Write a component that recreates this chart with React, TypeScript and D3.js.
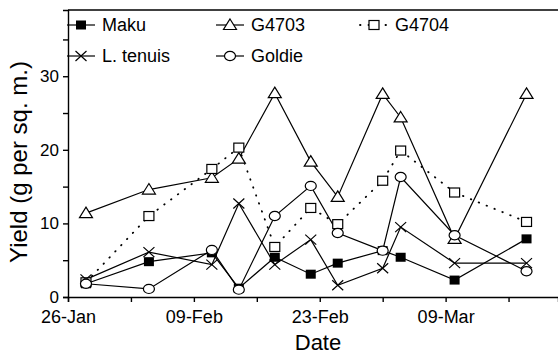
import * as d3 from 'd3';
import { useEffect, useRef } from 'react';

// sampling dates (1993, not a leap year)
const dates = ['28-Jan', '04-Feb', '11-Feb', '14-Feb', '18-Feb', '22-Feb', '25-Feb', '02-Mar', '04-Mar', '10-Mar', '18-Mar'];

const maku = [1.8, 4.8, 6.0, 1.2, 5.4, 3.1, 4.6, 6.3, 5.4, 2.3, 7.9];
const g4703 = [11.4, 14.6, 16.2, 18.8, 27.7, 18.4, 13.6, 27.6, 24.4, 7.9, 27.6];
const g4704 = [2.0, 11.0, 17.4, 20.3, 6.8, 12.1, 9.9, 15.8, 19.9, 14.2, 10.2];
const tenuis = [2.4, 6.1, 4.4, 12.7, 4.4, 7.8, 1.6, 3.9, 9.5, 4.6, 4.6];
const goldie = [1.8, 1.1, 6.4, 1.0, 11.0, 15.1, 8.7, 6.3, 16.3, 8.4, 3.5];

const xTicks = ['26-Jan', '02-Feb', '09-Feb', '16-Feb', '23-Feb', '02-Mar', '09-Mar', '16-Mar'];
const xLabels = ['26-Jan', '09-Feb', '23-Feb', '09-Mar'];
const yTicks = [0, 5, 10, 15, 20, 25, 30, 35];
const yLabels = [0, 10, 20, 30];

const parse = d3.timeParse('%d-%b-%Y');
const toDate = (s: string) => parse(s + '-1993') as Date;

const series = [
  { name: 'Maku', values: maku, marker: 'fsquare', dotted: false },
  { name: 'G4703', values: g4703, marker: 'triangle', dotted: false },
  { name: 'G4704', values: g4704, marker: 'square', dotted: true },
  { name: 'L. tenuis', values: tenuis, marker: 'x', dotted: false },
  { name: 'Goldie', values: goldie, marker: 'circle', dotted: false },
];

const W = 558;
const H = 355;
const font = '"Liberation Sans", Arial, sans-serif';

export default function App() {
  const svgRef = useRef<SVGSVGElement>(null);

  useEffect(() => {
    drawChart(svgRef.current as SVGSVGElement);
  }, []);

  return (
    <div style={{ position: 'absolute', left: 0, top: 0 }}>
      <svg ref={svgRef} width={W} height={H} style={{ display: 'block', background: '#fff' }}></svg>
    </div>
  );
}

function addMarker(g: any, type: string, cx: number, cy: number) {
  if (type === 'circle') {
    g.append('ellipse').attr('cx', cx).attr('cy', cy).attr('rx', 5.5).attr('ry', 4.6)
      .attr('fill', '#fff').attr('stroke', '#000').attr('stroke-width', 1.2);
  } else if (type === 'fsquare') {
    g.append('rect').attr('x', cx - 5).attr('y', cy - 4.5).attr('width', 10).attr('height', 9)
      .attr('fill', '#000');
  } else if (type === 'square') {
    g.append('rect').attr('x', cx - 5).attr('y', cy - 4.5).attr('width', 10).attr('height', 9)
      .attr('fill', '#fff').attr('stroke', '#000').attr('stroke-width', 1.2);
  } else if (type === 'triangle') {
    g.append('path')
      .attr('d', `M${cx},${cy - 6}L${cx + 6.5},${cy + 4.5}L${cx - 6.5},${cy + 4.5}Z`)
      .attr('fill', '#fff').attr('stroke', '#000').attr('stroke-width', 1.2);
  } else if (type === 'x') {
    g.append('path')
      .attr('d', `M${cx - 5.5},${cy - 5}L${cx + 5.5},${cy + 5}M${cx - 5.5},${cy + 5}L${cx + 5.5},${cy - 5}`)
      .attr('stroke', '#000').attr('stroke-width', 1.2).attr('fill', 'none');
  }
}

function drawChart(svgEl: SVGSVGElement) {
  const svg = d3.select(svgEl);
  svg.selectAll('*').remove();

  const left = 68, right = W, top = 10, bottom = 297;

  const x = d3.scaleTime()
    .domain([toDate('26-Jan'), d3.timeHour.offset(toDate('21-Mar'), 12)])
    .range([left, right]);
  const y = d3.scaleLinear().domain([0, 39]).range([bottom, top]);

  // frame top line
  svg.append('line').attr('x1', left).attr('x2', right).attr('y1', top).attr('y2', top)
    .attr('stroke', '#000').attr('stroke-width', 1.4);

  const xAxis = d3.axisBottom(x)
    .tickValues(xTicks.map(toDate))
    .tickSizeOuter(0)
    .tickSize(5)
    .tickPadding(8)
    .tickFormat((d: any) => {
      const s = d3.timeFormat('%d-%b')(d);
      return xLabels.includes(s) ? s : '';
    });

  const gx = svg.append('g').attr('transform', `translate(0,${bottom})`).call(xAxis);
  gx.selectAll('text').attr('font-size', 18).attr('font-family', font).attr('fill', '#000');
  gx.selectAll('line, path').attr('stroke', '#000').attr('stroke-width', 1.4);

  const yAxis = d3.axisLeft(y)
    .tickValues(yTicks)
    .tickSizeOuter(0)
    .tickSize(5)
    .tickPadding(4)
    .tickFormat((d: any) => (yLabels.includes(d) ? String(d) : ''));

  const gy = svg.append('g').attr('transform', `translate(${left},0)`).call(yAxis);
  gy.selectAll('text').attr('font-size', 17).attr('font-family', font).attr('fill', '#000');
  gy.selectAll('line, path').attr('stroke', '#000').attr('stroke-width', 1.4);

  // titles
  svg.append('text').attr('x', 318).attr('y', 350).attr('text-anchor', 'middle')
    .attr('font-size', 22).attr('font-family', font).text('Date');
  svg.append('text').attr('transform', 'translate(27,162) rotate(-90)').attr('text-anchor', 'middle')
    .attr('font-size', 24).attr('font-family', font).text('Yield (g per sq. m.)');

  const line = d3.line<number>()
    .x((_, i) => x(toDate(dates[i])))
    .y(d => y(d));

  const gl = svg.append('g');
  series.forEach(s => {
    gl.append('path').datum(s.values).attr('d', line)
      .attr('fill', 'none').attr('stroke', '#000')
      .attr('stroke-width', s.dotted ? 1.8 : 1.2)
      .attr('stroke-dasharray', s.dotted ? '0.5,8' : null)
      .attr('stroke-linecap', s.dotted ? 'round' : 'butt');
  });

  const gm = svg.append('g');
  series.forEach(s => {
    s.values.forEach((v, i) => addMarker(gm, s.marker, x(toDate(dates[i])), y(v)));
  });

  // legend
  const legendPos = [
    { cx: 81, cy: 25 },
    { cx: 230, cy: 25 },
    { cx: 374, cy: 25 },
    { cx: 81, cy: 56 },
    { cx: 230, cy: 56 },
  ];
  const lg = svg.append('g');
  series.forEach((s, i) => {
    const p = legendPos[i];
    lg.append('line').attr('x1', p.cx - 14).attr('x2', p.cx + 14).attr('y1', p.cy).attr('y2', p.cy)
      .attr('stroke', '#000').attr('stroke-width', s.dotted ? 1.8 : 1.2)
      .attr('stroke-dasharray', s.dotted ? '0.5,8' : null)
      .attr('stroke-linecap', s.dotted ? 'round' : 'butt');
    addMarker(lg, s.marker, p.cx, p.cy);
    lg.append('text').attr('x', p.cx + 21).attr('y', p.cy + 6)
      .attr('font-size', 18).attr('font-family', font).text(s.name);
  });
}
